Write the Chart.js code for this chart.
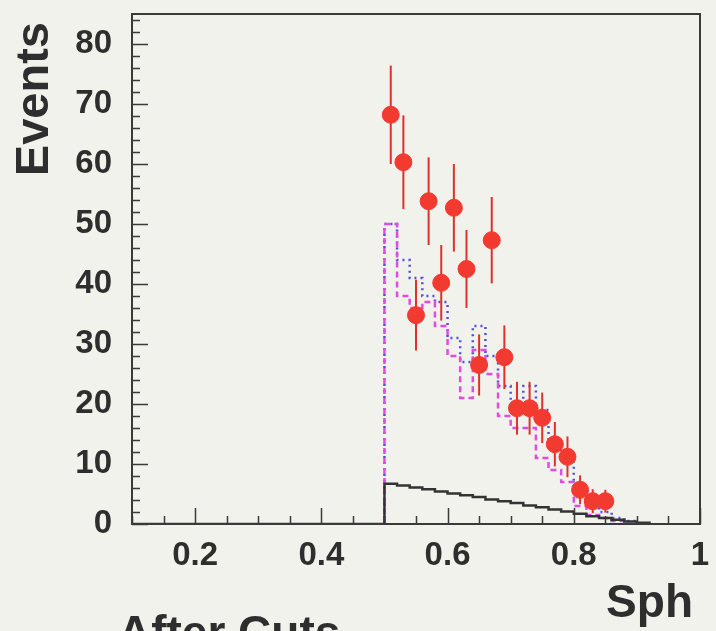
<!DOCTYPE html>
<html>
<head>
<meta charset="utf-8">
<script src="https://cdn.jsdelivr.net/npm/chart.js@4.4.0/dist/chart.umd.min.js"></script>
<style>
  html, body { margin: 0; padding: 0; background: #f2f2ec; }
  #wrap { width: 716px; height: 631px; }
</style>
</head>
<body>
<div id="wrap"><canvas id="myChart" width="716" height="631"></canvas></div>
<script>
// Data points (bin centres) and their values / errors
const dataX = [0.51, 0.53, 0.55, 0.57, 0.59, 0.61, 0.63, 0.65, 0.67, 0.69, 0.71, 0.73, 0.75, 0.77, 0.79, 0.81, 0.83, 0.85];
const dataY = [68.2, 60.3, 34.8, 53.8, 40.2, 52.7, 42.5, 26.5, 47.3, 27.8, 19.3, 19.3, 17.7, 13.3, 11.2, 5.7, 3.8, 3.8];
const dataErr = [8.2, 7.8, 5.9, 7.3, 6.3, 7.3, 6.5, 5.1, 7.2, 5.3, 4.4, 4.4, 4.2, 3.7, 3.4, 2.4, 2.0, 1.9];

// Histogram bin left edges (width 0.02)
const binEdges = [0.50, 0.52, 0.54, 0.56, 0.58, 0.60, 0.62, 0.64, 0.66, 0.68, 0.70, 0.72, 0.74, 0.76, 0.78, 0.80, 0.82, 0.84, 0.86, 0.88, 0.90];
const lastEdge = 0.92;

// Monte Carlo histograms
const blueDotted = [50, 44, 41, 38, 37, 31, 27, 33, 28, 23, 20, 23, 19, 13, 11, 5, 3, 2, 1, 0.5, 0];
const magentaDashed = [50, 38, 36, 37, 33, 28, 21, 29, 25, 18, 16, 16, 11, 9, 7, 3, 1.5, 1, 0.5, 0, 0];
const blackSolid = [6.7, 6.4, 6.1, 5.8, 5.4, 5.1, 4.8, 4.5, 4.1, 3.8, 3.5, 3.1, 2.8, 2.4, 2.1, 1.7, 1.3, 1.0, 0.7, 0.4, 0.2];

// Tick labels
const xTickValues = [0.2, 0.4, 0.6, 0.8, 1.0];
const xTickLabels = ['0.2', '0.4', '0.6', '0.8', '1'];
const yTickValues = [0, 10, 20, 30, 40, 50, 60, 70, 80];
const yTickLabels = ['0', '10', '20', '30', '40', '50', '60', '70', '80'];

const FONT = '"Liberation Sans", Arial, Helvetica, sans-serif';
const INK = '#2e2e2e';

// build step points for a histogram
function histPoints(vals, startX) {
    const pts = [];
    if (startX !== undefined) pts.push({x: startX, y: 0});
    pts.push({x: binEdges[0], y: 0});
    binEdges.forEach((e, i) => pts.push({x: e, y: vals[i]}));
    pts.push({x: lastEdge, y: 0});
    return pts;
}

const points = dataX.map((x, i) => ({x: x, y: dataY[i]}));

// background fill
const bgPlugin = {
    id: 'bg',
    beforeDraw(chart) {
        const ctx = chart.ctx;
        ctx.save();
        ctx.fillStyle = '#f2f2ec';
        ctx.fillRect(0, 0, chart.width, chart.height);
        ctx.restore();
    }
};

// error bars, drawn just before the data markers
const errorBarPlugin = {
    id: 'errorBars',
    beforeDatasetDraw(chart, args) {
        if (args.index !== 0) return;
        const ctx = chart.ctx;
        const xs = chart.scales.x, ys = chart.scales.y;
        ctx.save();
        ctx.strokeStyle = '#e0302c';
        ctx.lineWidth = 2;
        dataX.forEach((x, i) => {
            const px = xs.getPixelForValue(x);
            ctx.beginPath();
            ctx.moveTo(px, ys.getPixelForValue(dataY[i] - dataErr[i]));
            ctx.lineTo(px, ys.getPixelForValue(dataY[i] + dataErr[i]));
            ctx.stroke();
        });
        ctx.restore();
    }
};

// frame, inward ticks and axis titles
const framePlugin = {
    id: 'frame',
    afterDatasetsDraw(chart) {
        const ctx = chart.ctx;
        const a = chart.chartArea;
        const xs = chart.scales.x, ys = chart.scales.y;
        ctx.save();
        ctx.strokeStyle = '#3a3a3a';
        ctx.lineWidth = 2;
        ctx.strokeRect(a.left, a.top, a.right - a.left, a.bottom - a.top);

        ctx.lineWidth = 1.5;
        ctx.beginPath();
        // y ticks: major every 10, minor every 2
        for (let v = 0; v <= 84; v += 2) {
            const py = Math.round(ys.getPixelForValue(v)) + 0.5;
            const len = (v % 10 === 0) ? 16 : 8;
            ctx.moveTo(a.left, py);
            ctx.lineTo(a.left + len, py);
        }
        // x ticks: major every 0.2, minor every 0.05
        for (let k = 2; k <= 20; k++) {
            const v = k * 0.05;
            const px = Math.round(xs.getPixelForValue(v)) + 0.5;
            const len = (k % 4 === 0) ? 16 : 8;
            ctx.moveTo(px, a.bottom);
            ctx.lineTo(px, a.bottom - len);
        }
        ctx.stroke();

        // axis titles
        ctx.fillStyle = INK;
        ctx.font = 'bold 46px ' + FONT;
        ctx.textAlign = 'right';
        ctx.textBaseline = 'middle';
        ctx.fillText('Sph', 693, 604);

        ctx.save();
        ctx.font = 'bold 47px ' + FONT;
        ctx.translate(35, 22);
        ctx.rotate(-Math.PI / 2);
        ctx.fillText('Events', 0, 0);
        ctx.restore();

        // caption, cut off at the bottom edge
        ctx.textAlign = 'left';
        ctx.textBaseline = 'alphabetic';
        ctx.fillText('After Cuts', 118, 648);
        ctx.restore();
    }
};

const myChart = document.getElementById('myChart');

const chart = new Chart(myChart, {
    type: 'scatter',
    data: {
        datasets: [
            {
                label: 'Data',
                data: points,
                backgroundColor: '#f23a30',
                borderColor: '#f23a30',
                pointRadius: 8.5,
                pointHoverRadius: 8.5,
                showLine: false
            },
            {
                label: 'Background',
                type: 'line',
                data: histPoints(blackSolid, 0.1),
                stepped: 'before',
                borderColor: '#333333',
                borderWidth: 2.5,
                pointRadius: 0,
                fill: false
            },
            {
                label: 'MC 1',
                type: 'line',
                data: histPoints(magentaDashed),
                stepped: 'before',
                borderColor: '#e04ce0',
                borderWidth: 2.5,
                borderDash: [6, 4],
                pointRadius: 0,
                fill: false
            },
            {
                label: 'MC 2',
                type: 'line',
                data: histPoints(blueDotted),
                stepped: 'before',
                borderColor: '#5050e0',
                borderWidth: 2.5,
                borderDash: [2, 4],
                pointRadius: 0,
                fill: false
            }
        ]
    },
    options: {
        responsive: false,
        animation: false,
        layout: {
            padding: {top: 14, right: 16, left: 0, bottom: 0}
        },
        plugins: {
            legend: {display: false},
            tooltip: {enabled: false}
        },
        scales: {
            x: {
                type: 'linear',
                min: 0.1,
                max: 1.0,
                grid: {display: false, drawTicks: false},
                border: {display: false},
                afterBuildTicks: scale => {
                    scale.ticks = xTickValues.map(v => ({value: v}));
                },
                afterFit: scale => {
                    scale.height = 107;
                    scale.paddingLeft = 0;
                    scale.paddingRight = 0;
                },
                ticks: {
                    padding: 12,
                    color: INK,
                    font: {family: FONT, size: 33, weight: 'bold'},
                    callback: value => {
                        const i = xTickValues.findIndex(v => Math.abs(v - value) < 1e-6);
                        return i >= 0 ? xTickLabels[i] : '';
                    }
                }
            },
            y: {
                type: 'linear',
                min: 0,
                max: 85,
                grid: {display: false, drawTicks: false},
                border: {display: false},
                afterBuildTicks: scale => {
                    scale.ticks = yTickValues.map(v => ({value: v}));
                },
                afterFit: scale => {
                    scale.width = 132;
                    scale.paddingTop = 0;
                    scale.paddingBottom = 0;
                },
                ticks: {
                    padding: 20,
                    color: INK,
                    font: {family: FONT, size: 33, weight: 'bold'},
                    callback: value => {
                        const i = yTickValues.indexOf(value);
                        return i >= 0 ? yTickLabels[i] : '';
                    }
                }
            }
        }
    },
    plugins: [bgPlugin, errorBarPlugin, framePlugin]
});
</script>
</body>
</html>
